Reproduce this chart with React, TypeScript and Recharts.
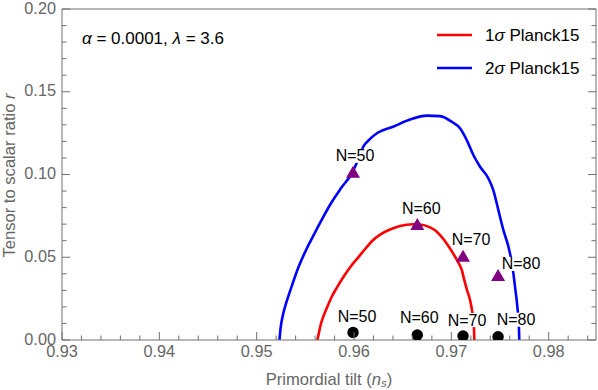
import React from 'react';
import { ComposedChart, Line, Scatter, XAxis, YAxis, Label } from 'recharts';

// 1 sigma Planck15 contour (n_s, r)
const sigma1Ns = [0.95624, 0.95639, 0.95657, 0.95683, 0.95714, 0.95765, 0.95827, 0.95898, 0.9597, 0.96042, 0.96119, 0.96186, 0.96268, 0.96371, 0.96473, 0.96607, 0.96679, 0.96781, 0.96853, 0.96918, 0.96976, 0.97021, 0.97069, 0.97107, 0.9713, 0.97161, 0.97192, 0.97212, 0.97226, 0.97233, 0.97236];
const sigma1R = [0, 0.0042, 0.0091, 0.0139, 0.0184, 0.0254, 0.032, 0.0387, 0.0447, 0.0498, 0.0553, 0.0598, 0.0637, 0.0668, 0.0689, 0.0699, 0.0698, 0.068, 0.0653, 0.061, 0.0562, 0.052, 0.0471, 0.0423, 0.0369, 0.0302, 0.0242, 0.0181, 0.0121, 0.006, 0];

// 2 sigma Planck15 contour
const sigma2Ns = [0.95234, 0.95246, 0.95272, 0.95313, 0.95364, 0.95426, 0.95498, 0.9558, 0.95672, 0.95765, 0.95867, 0.95977, 0.96032, 0.96093, 0.96165, 0.96247, 0.96401, 0.96576, 0.96747, 0.96884, 0.97004, 0.97089, 0.97158, 0.97226, 0.97295, 0.9738, 0.97431, 0.97483, 0.97534, 0.97587, 0.97628, 0.97654, 0.97678, 0.97695, 0.97698];
const sigma2R = [0, 0.0073, 0.0157, 0.0242, 0.0332, 0.0435, 0.0532, 0.0628, 0.0731, 0.0828, 0.0918, 0.1007, 0.1076, 0.1166, 0.1215, 0.1254, 0.1289, 0.1332, 0.1356, 0.1353, 0.1319, 0.1279, 0.1208, 0.1118, 0.1047, 0.0977, 0.0906, 0.0785, 0.0665, 0.0562, 0.0443, 0.0322, 0.0201, 0.006, 0];

const efolds = ['N=50', 'N=60', 'N=70', 'N=80'];
const triNs = [0.9599, 0.9665, 0.9712, 0.9748];
const triR = [0.101, 0.0695, 0.0503, 0.0387];
const dotNs = [0.9599, 0.9665, 0.9712, 0.9748];
const dotR = [0.0046, 0.003, 0.0024, 0.002];

const xTicks = [0.93, 0.932, 0.934, 0.936, 0.938, 0.94, 0.942, 0.944, 0.946, 0.948, 0.95, 0.952, 0.954, 0.956, 0.958, 0.96, 0.962, 0.964, 0.966, 0.968, 0.97, 0.972, 0.974, 0.976, 0.978, 0.98, 0.982, 0.984];
const xTickLabels = ['0.93', '0.94', '0.95', '0.96', '0.97', '0.98'];
const yTicks = [0, 0.01, 0.02, 0.03, 0.04, 0.05, 0.06, 0.07, 0.08, 0.09, 0.1, 0.11, 0.12, 0.13, 0.14, 0.15, 0.16, 0.17, 0.18, 0.19, 0.2];
const yTickLabels = ['0.00', '0.05', '0.10', '0.15', '0.20'];

const sigma1Data = sigma1Ns.map((ns, i) => ({ ns, r: sigma1R[i] }));
const sigma2Data = sigma2Ns.map((ns, i) => ({ ns, r: sigma2R[i] }));
const triData = triNs.map((ns, i) => ({ ns, r: triR[i], label: efolds[i] }));
const dotData = dotNs.map((ns, i) => ({ ns, r: dotR[i], label: efolds[i] }));

// label offsets from the marker, px
const triLabelOffset = [[2, -17], [4, -16], [8, -17], [23, -12]];
const dotLabelOffset = [[4, -16], [2, -18], [4, -16], [18, -17]];

const FONT = '"Liberation Sans", Arial, sans-serif';
const FRAME = '#707070';
const TEXT_GRAY = '#666666';

const isMajor = (v: number, labels: string[]) => {
  const lab = v.toFixed(2);
  return labels.includes(lab) && Math.abs(v - Number(lab)) < 1e-9;
};

const BottomTick = (props: any) => {
  const { x, y, payload } = props;
  const major = isMajor(payload.value, xTickLabels);
  return (
    <g>
      <line x1={x} y1={y} x2={x} y2={y - (major ? 8 : 4.5)} stroke={FRAME} />
      {major && (
        <text x={x} y={y + 11} textAnchor="middle" dominantBaseline="central" fill={TEXT_GRAY} fontSize={16.3}>
          {payload.value.toFixed(2)}
        </text>
      )}
    </g>
  );
};

const TopTick = (props: any) => {
  const { x, y, payload } = props;
  const major = isMajor(payload.value, xTickLabels);
  return <line x1={x} y1={y} x2={x} y2={y + (major ? 8 : 4.5)} stroke={FRAME} />;
};

const LeftTick = (props: any) => {
  const { x, y, payload } = props;
  const major = isMajor(payload.value, yTickLabels);
  return (
    <g>
      <line x1={x} y1={y} x2={x + (major ? 8 : 4.5)} y2={y} stroke={FRAME} />
      {major && (
        <text x={x - 6} y={y - 1.5} textAnchor="end" dominantBaseline="central" fill={TEXT_GRAY} fontSize={16.3}>
          {payload.value.toFixed(2)}
        </text>
      )}
    </g>
  );
};

const RightTick = (props: any) => {
  const { x, y, payload } = props;
  const major = isMajor(payload.value, yTickLabels);
  return <line x1={x} y1={y} x2={x - (major ? 8 : 4.5)} y2={y} stroke={FRAME} />;
};

const PointLabel = ({ x, y, text }: { x: number; y: number; text: string }) => (
  <g>
    <rect x={x - 19} y={y - 7} width={38} height={14} fill="#ffffff" />
    <text x={x} y={y} textAnchor="middle" dominantBaseline="central" fontSize={16} fill="#000">
      {text}
    </text>
  </g>
);

const TriangleMark = (props: any) => {
  const { cx, cy, payload } = props;
  const [dx, dy] = triLabelOffset[efolds.indexOf(payload.label)];
  return (
    <g>
      <PointLabel x={cx + dx} y={cy + dy} text={payload.label} />
      <polygon points={`${cx},${cy - 7} ${cx - 7},${cy + 5} ${cx + 7},${cy + 5}`} fill="#800080" />
    </g>
  );
};

const DotMark = (props: any) => {
  const { cx, cy, payload } = props;
  const [dx, dy] = dotLabelOffset[efolds.indexOf(payload.label)];
  return (
    <g>
      <PointLabel x={cx + dx} y={cy + dy} text={payload.label} />
      <circle cx={cx} cy={cy} r={5.7} fill="#000" />
    </g>
  );
};

const XTitle = (props: any) => {
  const { x, width } = props.viewBox;
  return (
    <text x={x + width / 2} y={379} textAnchor="middle" dominantBaseline="central" fill={TEXT_GRAY} fontSize={16.6}>
      Primordial tilt (<tspan fontStyle="italic">n</tspan>
      <tspan fontStyle="italic" fontSize={11.5} dy={4}>s</tspan>
      <tspan dy={-4}>)</tspan>
    </text>
  );
};

const YTitle = (props: any) => {
  const { y, height } = props.viewBox;
  const cy = y + height / 2 + 1;
  return (
    <text x={9} y={cy} transform={`rotate(-90 9 ${cy})`} textAnchor="middle" dominantBaseline="central" fill={TEXT_GRAY} fontSize={16.6}>
      Tensor to scalar ratio <tspan fontStyle="italic">r</tspan>
    </text>
  );
};

export default function App() {
  return (
    <div style={{ position: 'absolute', left: 0, top: 0, width: 598, height: 390, fontFamily: FONT, background: '#fff' }}>
      <ComposedChart width={598} height={390} margin={{ top: 8, right: 0, bottom: 0, left: 0 }}>
        <XAxis
          dataKey="ns"
          type="number"
          domain={[0.93, 0.98486]}
          allowDataOverflow
          ticks={xTicks}
          interval={0}
          height={50}
          tickSize={0}
          tickMargin={0}
          tickLine={false}
          axisLine={{ stroke: FRAME }}
          tick={<BottomTick />}
        >
          <Label content={<XTitle />} />
        </XAxis>
        <XAxis
          xAxisId="top"
          orientation="top"
          type="number"
          domain={[0.93, 0.98486]}
          allowDataOverflow
          ticks={xTicks}
          interval={0}
          height={1}
          tickSize={0}
          tickMargin={0}
          tickLine={false}
          axisLine={{ stroke: FRAME }}
          tick={<TopTick />}
        />
        <YAxis
          type="number"
          domain={[0, 0.2]}
          allowDataOverflow
          ticks={yTicks}
          interval={0}
          width={62}
          tickSize={0}
          tickMargin={0}
          tickLine={false}
          axisLine={{ stroke: FRAME }}
          tick={<LeftTick />}
        >
          <Label content={<YTitle />} />
        </YAxis>
        <YAxis
          yAxisId="right"
          orientation="right"
          type="number"
          domain={[0, 0.2]}
          allowDataOverflow
          ticks={yTicks}
          interval={0}
          width={2}
          tickSize={0}
          tickMargin={0}
          tickLine={false}
          axisLine={{ stroke: FRAME }}
          tick={<RightTick />}
        />
        <Line data={sigma2Data} dataKey="r" type="monotone" stroke="#0000ff" strokeWidth={2.6} dot={false} isAnimationActive={false} />
        <Line data={sigma1Data} dataKey="r" type="monotone" stroke="#ff0000" strokeWidth={2.6} dot={false} isAnimationActive={false} />
        <Scatter data={dotData} dataKey="r" shape={<DotMark />} isAnimationActive={false} />
        <Scatter data={triData} dataKey="r" shape={<TriangleMark />} isAnimationActive={false} />
      </ComposedChart>
      <svg width={598} height={390} style={{ position: 'absolute', left: 0, top: 0, pointerEvents: 'none' }}>
        <text x={82} y={38} dominantBaseline="central" fontSize={17} fill="#000">
          <tspan fontStyle="italic">α</tspan> = 0.0001, <tspan fontStyle="italic">λ</tspan> = 3.6
        </text>
        <line x1={437} x2={472} y1={35} y2={35} stroke="#ff0000" strokeWidth={2.6} />
        <text x={485} y={35} dominantBaseline="central" fontSize={17} fill="#000">
          1<tspan fontStyle="italic">σ</tspan> Planck15
        </text>
        <line x1={437} x2={472} y1={68} y2={68} stroke="#0000ff" strokeWidth={2.6} />
        <text x={485} y={68} dominantBaseline="central" fontSize={17} fill="#000">
          2<tspan fontStyle="italic">σ</tspan> Planck15
        </text>
      </svg>
    </div>
  );
}
